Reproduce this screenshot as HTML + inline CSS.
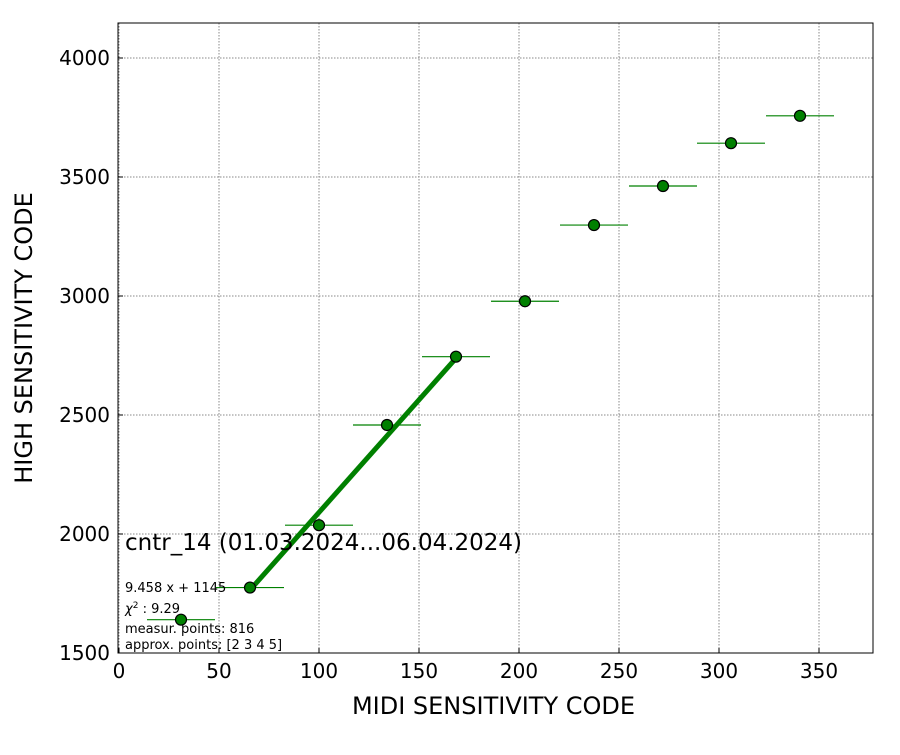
<!DOCTYPE html>
<html><head><meta charset="utf-8"><style>
body{margin:0;background:#fff;width:900px;height:750px;overflow:hidden}
text{font-family:"DejaVu Sans","Liberation Sans",sans-serif;fill:#000}
</style></head><body>
<svg id="chart" width="900" height="750"></svg>
<script>
const xs=[31,65.5,100,134,168.5,203,237.5,272,306,340.5];
const ys=[1640,1775,2037,2458,2745,2978,3298,3462,3642,3757];
const xerr=[17,17,17,17,17,17,17,17,17,17];
const yerr=[8,8,10,12,12,20,25,15,12,10];
const xTicks=[0,50,100,150,200,250,300,350];
const yTicks=[1500,2000,2500,3000,3500,4000];
const fitSlope=9.458, fitIntercept=1145;
const fitIdx=[1,2,3,4];
const L=118,R=873,T=23,B=653;
const X0=-0.5,X1=377,Y0=1500,Y1=4147;
const sx=v=>L+(v-X0)/(X1-X0)*(R-L);
const sy=v=>B-(v-Y0)/(Y1-Y0)*(B-T);
const svg=document.getElementById('chart');
const NS='http://www.w3.org/2000/svg';
function mk(tag,attrs,parent){const e=document.createElementNS(NS,tag);for(const k in attrs)e.setAttribute(k,attrs[k]);(parent||svg).appendChild(e);return e;}
for(const t of xTicks){
 const g=mk('line',{x1:sx(t),x2:sx(t),y1:T,y2:B,stroke:'#888','stroke-dasharray':'1.5,1.5','stroke-width':1});
 
 
 const tk=mk('line',{x1:sx(t),x2:sx(t),y1:B,y2:B-5,stroke:'#000'});
 
 
 const tx=mk('text',{x:sx(t),y:B+25,'text-anchor':'middle','font-size':20});tx.textContent=t;
 
 
}
for(const t of yTicks){
 const g=mk('line',{x1:L,x2:R,y1:sy(t),y2:sy(t),stroke:'#888','stroke-dasharray':'1.5,1.5','stroke-width':1});
 
 
 const tk=mk('line',{x1:L,x2:L+5,y1:sy(t),y2:sy(t),stroke:'#000'});
 
 
 const tx=mk('text',{x:L-8,y:sy(t)+7,'text-anchor':'end','font-size':20});tx.textContent=t;
 
 
}
xs.forEach((x,i)=>{
 const h=mk('line',{x1:sx(x-xerr[i]),x2:sx(x+xerr[i]),y1:sy(ys[i]),y2:sy(ys[i]),stroke:'green','stroke-width':1.2});
 
 
 const v=mk('line',{x1:sx(x),x2:sx(x),y1:sy(ys[i]-yerr[i]),y2:sy(ys[i]+yerr[i]),stroke:'green','stroke-width':1.2});
 
 
});
const fx0=xs[fitIdx[0]],fx1=xs[fitIdx[fitIdx.length-1]];
const fl=mk('line',{x1:sx(fx0),y1:sy(fitSlope*fx0+fitIntercept),x2:sx(fx1),y2:sy(fitSlope*fx1+fitIntercept),stroke:'green','stroke-width':5});


xs.forEach((x,i)=>{
 const c=mk('circle',{cx:sx(x),cy:sy(ys[i]),r:5.5,fill:'green',stroke:'#000','stroke-width':1.2});
 
 
});
const fr=mk('rect',{x:L,y:T,width:R-L,height:B-T,fill:'none',stroke:'#000','stroke-width':1});


function txt(s,attrs,name){const t=mk('text',attrs);t.textContent=s;return t;}
txt('cntr_14 (01.03.2024...06.04.2024)',{x:125,y:550,'font-size':23},'chart-title');
txt('9.458 x + 1145',{x:125,y:592,'font-size':13},'fit-equation');
const chi=mk('text',{x:125,y:613,'font-size':13});


chi.innerHTML='<tspan font-style="italic">χ</tspan><tspan dy="-5" font-size="9">2</tspan><tspan dy="5"> : 9.29</tspan>';
txt('measur. points: 816',{x:125,y:633,'font-size':13},'measured-points');
txt('approx. points: [2 3 4 5]',{x:125,y:649,'font-size':13},'approx-points');
txt('MIDI SENSITIVITY CODE',{x:(L+R)/2-2,y:714,'text-anchor':'middle','font-size':24},'x-axis-title');
txt('HIGH SENSITIVITY CODE',{x:0,y:0,'text-anchor':'middle','font-size':24,transform:`translate(32,${(T+B)/2}) rotate(-90)`},'y-axis-title');
</script>
</body></html>
